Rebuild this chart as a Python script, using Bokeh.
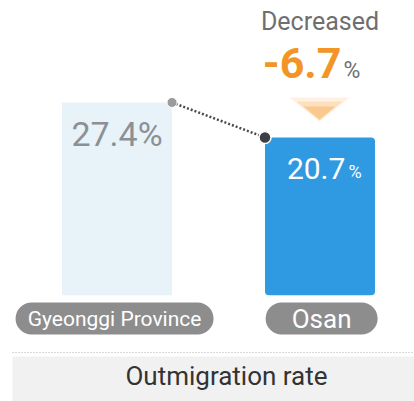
from bokeh.plotting import figure
from bokeh.models import Range1d
from bokeh.core.properties import value
from bokeh.embed import file_html
from bokeh.resources import INLINE

# ---- data ----
categories = ["Gyeonggi Province", "Osan"]
rates = [27.4, 20.7]
rate_labels = ["27.4%", "20.7"]
change = -6.7
change_label = "-6.7"
header_text = "Decreased"
footer_text = "Outmigration rate"

# ---- layout helpers (reference pixel -> data) ----
W, H = 414, 401
KX = 203.0
XS = -116.5 / KX
KY = 5.224
YT = 245.1 / KY

def px_x(X):
    return XS + X / KX

def px_y(Y):
    return YT - Y / KY

xs = list(range(len(categories)))
bar_w = 0.542
base = -9.5

p = figure(width=W, height=H, output_backend="svg", toolbar_location=None,
           x_range=Range1d(XS, XS + W / KX), y_range=Range1d(YT - H / KY, YT),
           min_border=0)
p.axis.visible = False
p.grid.visible = False
p.outline_line_color = None
p.background_fill_color = "white"
p.border_fill_color = "white"

ROBOTO = value("Roboto")

# bars
p.vbar(x=[xs[0]], top=[rates[0]], bottom=base, width=bar_w,
       fill_color="#e7f3f8", line_color=None)
p.vbar(x=[xs[1]], top=[rates[1]], bottom=base, width=bar_w,
       fill_color="#2f9ae2", line_color=None, border_radius=4)

# connector
dot_x = [xs[0] + bar_w / 2, xs[1] - bar_w / 2]
p.line(dot_x, rates, line_color="#4a4a4a", line_width=2.5, line_dash="2 2")
p.scatter([dot_x[0]], [rates[0]], size=10, fill_color="#9b9b9b", line_color="white", line_width=1)
p.scatter([dot_x[1]], [rates[1]], size=12, fill_color="#3e3f44", line_color="white", line_width=1.5)

# value labels
p.text(x=[xs[0]], y=[rates[0] - 6.1], text=[rate_labels[0]], text_align="center",
       text_baseline="middle", text_font=ROBOTO, text_font_size="34px",
       text_color="#8c9095")
p.text(x=[xs[1] + 0.125], y=[rates[1] - 5.85], text=[rate_labels[1]], text_align="right",
       text_baseline="middle", text_font=ROBOTO, text_font_size="30px",
       text_color="white")
p.text(x=[xs[1] + 0.14], y=[rates[1] - 6.6], text=["%"], text_align="left",
       text_baseline="middle", text_font=ROBOTO, text_font_size="18px",
       text_color="white")

# header
cx = xs[1]
p.text(x=[cx], y=[px_y(21)], text=[header_text], text_align="center",
       text_baseline="middle", text_font=ROBOTO, text_font_size="25px",
       text_color="#6f6f6f")
p.text(x=[px_x(341)], y=[px_y(62.5)], text=[change_label], text_align="right",
       text_baseline="middle", text_font=ROBOTO, text_font_size="43px",
       text_font_style="bold", text_color="#f39526")
p.text(x=[px_x(343)], y=[px_y(70)], text=["%"], text_align="left",
       text_baseline="middle", text_font=ROBOTO, text_font_size="23px",
       text_color="#6f6f6f")

# arrow (soft gradient look)
p.patch([px_x(289), px_x(349), px_x(319)], [px_y(97), px_y(97), px_y(121)],
        fill_color="#fff1e2", line_color=None)
p.patch([px_x(296), px_x(342), px_x(319)], [px_y(101), px_y(101), px_y(120)],
        fill_color="#fde0bf", line_color=None)
p.patch([px_x(303), px_x(335), px_x(319)], [px_y(106), px_y(106), px_y(119)],
        fill_color="#fbc98f", line_color=None)

# category pills
pill_w = [198 / KX, 112 / KX]
pill_cx = [xs[0] - 0.012, xs[1] + 0.008]
p.quad(left=[pill_cx[i] - pill_w[i] / 2 for i in range(2)],
       right=[pill_cx[i] + pill_w[i] / 2 for i in range(2)],
       top=px_y(302), bottom=px_y(334), fill_color="#8d8d8d", line_color=None,
       border_radius=16)
p.text(x=[pill_cx[0]], y=[px_y(318)], text=[categories[0]], text_align="center",
       text_baseline="middle", text_font=ROBOTO, text_font_size="21px", text_color="white")
p.text(x=[pill_cx[1]], y=[px_y(318)], text=[categories[1]], text_align="center",
       text_baseline="middle", text_font=ROBOTO, text_font_size="26px", text_color="white")

# separator and footer band
p.line([px_x(12), px_x(414)], [px_y(352), px_y(352)], line_color="#b5b5b5",
       line_width=1, line_dash="1 2")
p.quad(left=[px_x(12)], right=[px_x(414)], top=[px_y(356)], bottom=[px_y(401)],
       fill_color="#f1f1f1", line_color=None)
p.text(x=[px_x(226)], y=[px_y(375)], text=[footer_text], text_align="center",
       text_baseline="middle", text_font=ROBOTO, text_font_size="26px",
       text_color="#333333")

open("out.html", "w").write(file_html(p, INLINE))
